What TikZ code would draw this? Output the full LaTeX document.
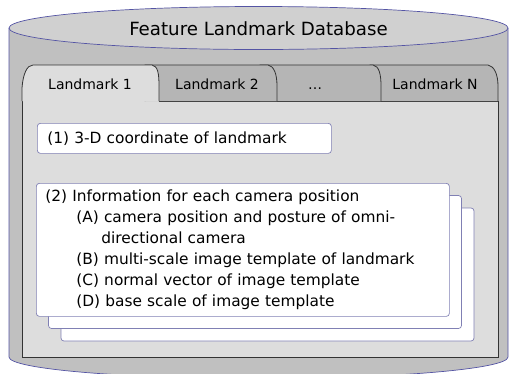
\documentclass[tikz,border=0pt]{standalone}
\usepackage{fontspec}
\setmainfont{DejaVu Sans}
\definecolor{cylfill}{RGB}{192,192,192}
\definecolor{cyltopfill}{RGB}{208,208,208}
\definecolor{cylline}{RGB}{84,84,164}
\definecolor{panelfill}{RGB}{221,221,221}
\definecolor{tabfill}{RGB}{181,181,181}
\definecolor{cardline}{RGB}{128,128,180}
\tikzset{cylbody/.style = {fill=cylfill, draw=cylline, line width=0.7pt},
         cyltop/.style = {fill=cyltopfill, draw=cylline, line width=0.7pt},
         panel/.style = {fill=panelfill, draw=black!80, line width=0.8pt},
         tab/.style = {fill=tabfill, draw=black!80, line width=0.8pt},
         activetab/.style = {fill=panelfill, draw=black!80, line width=0.8pt},
         card/.style = {fill=white, draw=cardline, line width=0.7pt, rounded corners=3pt},
         tablabel/.style = {font=\fontsize{14}{16}\selectfont, inner sep=0pt, anchor=base}}

\begin{document}
\begin{tikzpicture}[x=1pt, y=-1pt]
    \useasboundingbox (0, 0) rectangle (509, 373);

    \filldraw [cylbody] (9, 28) -- (9, 357)
      arc [start angle=180, end angle=360, x radius=249.5pt, y radius=21.5pt] -- (508, 28);
    \filldraw [cyltop] (258.5, 28) ellipse [x radius=249.5pt, y radius=21.5pt];
    \node [font=\fontsize{18.2}{20}\selectfont] (title) at (258.5, 29) {Feature Landmark Database};

    \fill [panelfill] (22, 101) rectangle (498, 357);
    \draw [panel, fill=none] (159, 101) -- (498, 101) -- (498, 357) -- (22, 357) -- (22, 101);

    \foreach \l/\t/\b/\c/\nm/\txt in {370/488/498/435/tabN/Landmark N, 260/373/381/315/tabdots/\ldots, 145/268/277/217/tabtwo/Landmark 2} {
      \filldraw [tab] (\l, 101) -- (\l, 65) -- (\t, 65) .. controls (\t+6, 66) and (\b, 74) .. (\b, 86) -- (\b, 101);
      \node [tablabel] (\nm) at (\c, 89.5) {\txt};
    }
    \filldraw [activetab] (22, 101) -- (22, 88) .. controls (23, 74) and (27, 65) .. (33, 65) -- (152, 65)
      .. controls (158, 66) and (159, 74) .. (159, 86) -- (159, 101);
    \node [tablabel] (tabone) at (90, 89.5) {Landmark 1};

    \node [card, anchor=north west, minimum width=294pt, minimum height=30pt, text width=274pt,
           inner xsep=10pt, align=left, font=\fontsize{15.4}{18}\selectfont] (coord) at (37, 123)
          {(1) 3-D coordinate of landmark};

    \foreach \d in {25, 12.5} {
      \draw [card] (36+\d, 183+\d) rectangle +(413, 133);
    }
    \node [card, anchor=north west, minimum width=413pt, minimum height=133pt, text width=395pt,
           inner xsep=9pt, align=left, font=\fontsize{15.4}{21}\selectfont] (info) at (36, 183)
          {(2) Information for each camera position\\
           \hspace*{31pt}(A) camera position and posture of omni-\\
           \hspace*{56pt}directional camera\\
           \hspace*{31pt}(B) multi-scale image template of landmark\\
           \hspace*{31pt}(C) normal vector of image template\\
           \hspace*{31pt}(D) base scale of image template};
\end{tikzpicture}
\end{document}
